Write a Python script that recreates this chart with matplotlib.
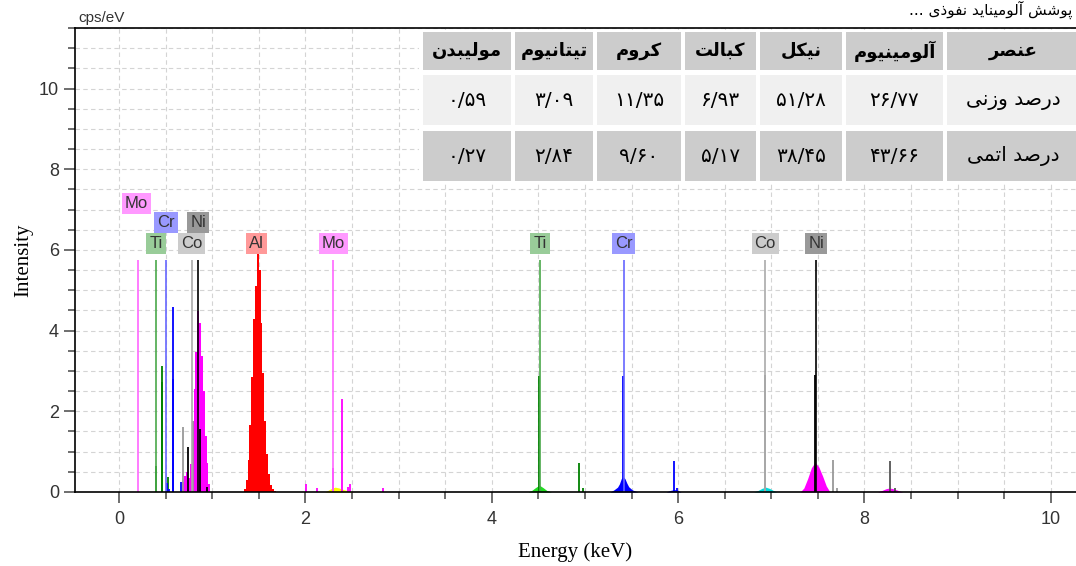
import numpy as np
import matplotlib
matplotlib.use('Agg')
import matplotlib.pyplot as plt
from matplotlib.patches import Rectangle
from matplotlib.ticker import MultipleLocator

plt.rcParams['font.family'] = ['Liberation Sans', 'DejaVu Sans']

# ---- table values ----
table_head = ['عنصر', 'آلومینیوم', 'نیکل', 'کبالت', 'کروم', 'تیتانیوم', 'مولیبدن']
weight_pct = ['درصد وزنی', '۲۶/۷۷', '۵۱/۲۸', '۶/۹۳', '۱۱/۳۵', '۳/۰۹', '۰/۵۹']
atomic_pct = ['درصد اتمی', '۴۳/۶۶', '۳۸/۴۵', '۵/۱۷', '۹/۶۰', '۲/۸۴', '۰/۲۷']
title_txt = 'پوشش آلومیناید نفوذی ...'

# ---- element marker lines (keV) ----
marker_top = 5.75
marker_el = ['Mo', 'Ti', 'Cr', 'Co', 'Ni', 'Al', 'Mo', 'Ti', 'Cr', 'Co', 'Ni']
marker_E = [0.207, 0.397, 0.504, 0.780, 0.851, 1.487, 2.300, 4.517, 5.415, 6.935, 7.480]

# ---- single-channel spikes ----
spike_el = ['Ti', 'Ti', 'Ti', 'Ti', 'Ti', 'Ti', 'Ti',
            'Cr', 'Cr', 'Cr', 'Cr', 'Cr', 'Cr', 'Cr', 'Cr',
            'Co', 'Co', 'Co', 'Co', 'Co',
            'Ni', 'Ni', 'Ni', 'Ni', 'NiB', 'NiB',
            'Mo', 'Mo', 'Mo', 'Mo', 'Mo', 'Mo', 'Mo']
spike_E = [0.400, 0.458, 0.463, 0.522, 4.511, 4.940, 4.975,
           0.512, 0.540, 0.576, 0.581, 0.662, 5.408, 5.960, 5.990,
           0.683, 0.790, 6.928, 7.660, 7.710,
           0.744, 0.865, 0.940, 7.473, 8.270, 8.330,
           2.010, 2.120, 2.292, 2.396, 2.460, 2.480, 2.830]
spike_I = [0.65, 3.12, 2.72, 0.38, 2.87, 0.73, 0.10,
           0.22, 0.08, 4.59, 2.80, 0.26, 2.87, 0.77, 0.10,
           1.61, 1.75, 2.90, 0.80, 0.10,
           1.11, 1.55, 0.12, 2.90, 0.78, 0.10,
           0.20, 0.10, 0.59, 2.31, 0.12, 0.20, 0.10]

# ---- filled peaks ----
al_E = [1.33, 1.35, 1.37, 1.39, 1.41, 1.43, 1.45, 1.47, 1.49, 1.51, 1.53, 1.55, 1.57, 1.59, 1.61, 1.63, 1.65, 1.67, 1.69]
al_I = [0.0, 0.08, 0.30, 0.80, 1.65, 2.85, 4.30, 5.10, 5.90, 5.50, 4.20, 2.95, 1.75, 0.95, 0.45, 0.18, 0.07, 0.02, 0.0]
nil_E = [0.67, 0.69, 0.71, 0.73, 0.75, 0.77, 0.79, 0.81, 0.83, 0.85, 0.87, 0.89, 0.91, 0.93, 0.95, 0.97, 0.99]
nil_I = [0.0, 0.25, 0.40, 0.50, 0.35, 0.70, 1.75, 2.55, 3.47, 4.49, 4.18, 3.37, 2.50, 1.38, 0.72, 0.20, 0.0]
mo_E = [2.21, 2.25, 2.29, 2.32, 2.36, 2.41, 2.46, 2.52]
mo_I = [0.0, 0.05, 0.10, 0.12, 0.10, 0.06, 0.03, 0.0]
ti_E = [4.39, 4.43, 4.47, 4.51, 4.55, 4.59, 4.64]
ti_I = [0.0, 0.04, 0.11, 0.17, 0.11, 0.04, 0.0]
cr_E = [5.27, 5.31, 5.35, 5.37, 5.39, 5.41, 5.43, 5.45, 5.47, 5.51, 5.57]
cr_I = [0.0, 0.05, 0.12, 0.20, 0.33, 0.38, 0.33, 0.22, 0.13, 0.05, 0.0]
crb_E = [5.87, 5.92, 5.96, 6.00, 6.03]
crb_I = [0.0, 0.04, 0.06, 0.04, 0.0]
co_E = [6.81, 6.86, 6.90, 6.94, 6.98, 7.02, 7.06]
co_I = [0.0, 0.04, 0.09, 0.12, 0.09, 0.04, 0.0]
ni_E = [7.31, 7.35, 7.39, 7.43, 7.47, 7.51, 7.55, 7.59, 7.63]
ni_I = [0.0, 0.10, 0.33, 0.60, 0.74, 0.62, 0.40, 0.15, 0.0]
nib_E = [8.14, 8.19, 8.23, 8.27, 8.31, 8.36, 8.41]
nib_I = [0.0, 0.04, 0.08, 0.10, 0.08, 0.04, 0.0]

# ---- element labels ----
label_el = ['Mo', 'Cr', 'Ni', 'Ti', 'Co', 'Al', 'Mo', 'Ti', 'Cr', 'Co', 'Ni']
label_E = [0.19, 0.504, 0.851, 0.397, 0.78, 1.48, 2.30, 4.517, 5.415, 6.935, 7.48]
label_y = [7.16, 6.67, 6.67, 6.17, 6.17, 6.17, 6.17, 6.17, 6.17, 6.17, 6.17]

# ---- styles ----
marker_col = {'Mo': '#ff66ff', 'Ti': '#4aa84a', 'Cr': '#6666ff', 'Co': '#aaaaaa',
              'Ni': '#000000', 'Al': '#ff0000'}
spike_col = {'Mo': '#ff00ff', 'Ti': '#008000', 'Cr': '#0000ff', 'Co': '#999999',
             'Ni': '#000000', 'NiB': '#555555'}
box_col = {'Mo': '#ff99ff', 'Ti': '#99cc99', 'Cr': '#9999ff', 'Co': '#cccccc',
           'Ni': '#999999', 'Al': '#ff9999'}

# ---- minimal Persian shaping (matplotlib has no shaper) ----
FORMS = {
    'ا': ('\uFE8D', '\uFE8E', None, None), 'آ': ('\uFE81', '\uFE82', None, None),
    'ب': ('\uFE8F', '\uFE90', '\uFE91', '\uFE92'), 'پ': ('\uFB56', '\uFB57', '\uFB58', '\uFB59'),
    'ت': ('\uFE95', '\uFE96', '\uFE97', '\uFE98'), 'د': ('\uFEA9', '\uFEAA', None, None),
    'ذ': ('\uFEAB', '\uFEAC', None, None), 'ر': ('\uFEAD', '\uFEAE', None, None),
    'ز': ('\uFEAF', '\uFEB0', None, None), 'ش': ('\uFEB5', '\uFEB6', '\uFEB7', '\uFEB8'),
    'ص': ('\uFEB9', '\uFEBA', '\uFEBB', '\uFEBC'), 'ع': ('\uFEC9', '\uFECA', '\uFECB', '\uFECC'),
    'ف': ('\uFED1', '\uFED2', '\uFED3', '\uFED4'), 'ل': ('\uFEDD', '\uFEDE', '\uFEDF', '\uFEE0'),
    'م': ('\uFEE1', '\uFEE2', '\uFEE3', '\uFEE4'), 'ن': ('\uFEE5', '\uFEE6', '\uFEE7', '\uFEE8'),
    'و': ('\uFEED', '\uFEEE', None, None), 'ی': ('\uFBFC', '\uFBFD', '\uFBFE', '\uFBFF'),
    'ک': ('\uFB8E', '\uFB8F', '\uFB90', '\uFB91'),
}


def rtl(s):
    out = []
    for i, c in enumerate(s):
        if c not in FORMS:
            out.append(c)
            continue
        prev = s[i - 1] if i > 0 else ''
        nxt = s[i + 1] if i + 1 < len(s) else ''
        jp = prev in FORMS and FORMS[prev][2] is not None
        jn = nxt in FORMS and FORMS[c][2] is not None
        f = FORMS[c]
        out.append(f[3] if (jp and jn) else f[1] if jp else f[2] if jn else f[0])
    return ''.join(out)[::-1]


def fa(s):
    return rtl(s) if any(c in FORMS for c in s) else s


W, H = 1076, 566
fig = plt.figure(figsize=(W / 100, H / 100), dpi=100)
ax = fig.add_axes([75 / W, 1 - 492 / H, 1 - 75 / W, (492 - 28) / H])

ax.set_xlim(-0.472, 10.27)
ax.set_ylim(0, 11.5)
ax.xaxis.set_major_locator(MultipleLocator(2))
ax.xaxis.set_minor_locator(MultipleLocator(0.5))
ax.yaxis.set_major_locator(MultipleLocator(2))
ax.yaxis.set_minor_locator(MultipleLocator(0.5))
ax.set_axisbelow(True)
ax.grid(True, which='both', color='#d4d4d4', linestyle=(0, (4, 3)), linewidth=0.8)
ax.tick_params(which='major', direction='out', length=8, width=1.2, color='#555555',
               labelsize=13, labelcolor='#333333')
ax.tick_params(which='minor', direction='out', length=5, width=1.2, color='#555555')
ax.tick_params(axis='x', pad=6)
for s in ['left', 'bottom', 'top']:
    ax.spines[s].set_color('black')
    ax.spines[s].set_linewidth(1.2)
ax.spines['right'].set_visible(False)

# filled peaks
ax.fill_between(al_E, al_I, step='mid', color='#ff0000', lw=0)
ax.fill_between(nil_E, nil_I, step='mid', color='#ff00ff', lw=0)
for e, i, c in [(mo_E, mo_I, '#ffff00'), (ti_E, ti_I, '#22dd22'), (cr_E, cr_I, '#0000ff'),
                (crb_E, crb_I, '#0000ff'), (co_E, co_I, '#00dddd'), (ni_E, ni_I, '#ff00ff'),
                (nib_E, nib_I, '#ff00ff')]:
    ax.fill_between(e, i, color=c, lw=0)

# spikes and marker lines
ax.vlines(spike_E, 0, spike_I, colors=[spike_col[k] for k in spike_el], lw=1.3)
ax.vlines(marker_E, 0, marker_top, colors=[marker_col[k] for k in marker_el], lw=1.2)

for el, e, y in zip(label_el, label_E, label_y):
    ax.text(e, y, el, ha='center', va='center', fontsize=12, color='#333333',
            bbox=dict(boxstyle='square,pad=0.18', fc=box_col[el], ec='none'))

ax.set_xlabel('Energy (keV)', family='Liberation Serif', fontsize=15, labelpad=10)
ax.set_ylabel('Intensity', family='Liberation Serif', fontsize=15, labelpad=4)
fig.text(78 / W, 1 - 18 / H, 'cps/eV', fontsize=11, color='#333333', va='center', ha='left')
fig.text(1072 / W, 1 - 1 / H, fa(title_txt), fontsize=11, family=['DejaVu Sans'],
         ha='right', va='top')

# table (drawn right to left)
cols = [(947, 1079), (846, 943), (760, 842), (685, 756), (597, 681), (515, 593), (423, 511)]
rows = [((32, 70), '#cccccc', table_head, 'bold', 13),
        ((75, 125), '#f0f0f0', weight_pct, 'normal', 14.5),
        ((131, 181), '#cccccc', atomic_pct, 'normal', 14.5)]


def fpt(x, y):
    return x / W, 1 - y / H


fig.patches.append(Rectangle(fpt(419, 184), (1079 - 419) / W, (184 - 30) / H,
                             transform=fig.transFigure, fc='white', ec='none', zorder=5))
for (y0, y1), fc, vals, wt, fs in rows:
    for (x0, x1), v in zip(cols, vals):
        fig.patches.append(Rectangle(fpt(x0, y1), (x1 - x0) / W, (y1 - y0) / H,
                                     transform=fig.transFigure, fc=fc, ec='none', zorder=6))
        fig.text(*fpt((x0 + x1) / 2, (y0 + y1) / 2), fa(v), ha='center', va='center',
                 fontsize=fs, fontweight=wt, family=['DejaVu Sans'], zorder=7)

fig.savefig('out.png', dpi=100)
